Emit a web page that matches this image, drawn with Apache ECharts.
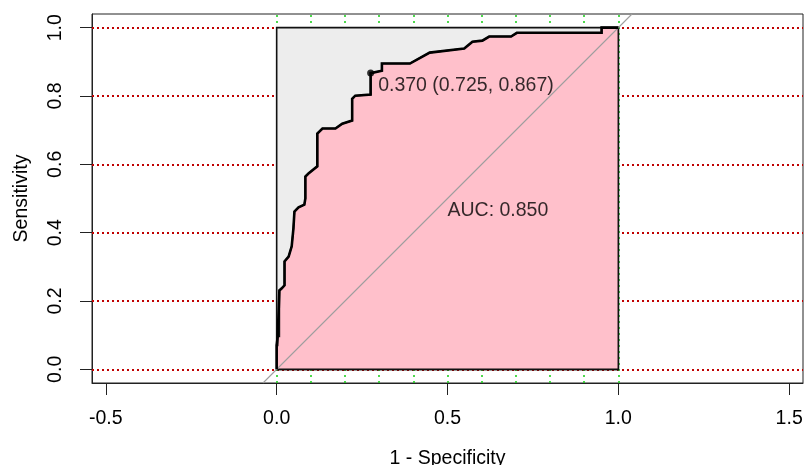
<!DOCTYPE html>
<html>
<head>
<meta charset="utf-8">
<script src="https://cdn.jsdelivr.net/npm/echarts@6/dist/echarts.min.js"></script>
<style>html,body{margin:0;padding:0;background:#fff}#c{width:810px;height:465px}</style>
</head>
<body>
<div id="c"></div>
<script>
// ROC curve (1 - specificity, sensitivity)
const fpr  = [0, 0, 0.003, 0.003, 0.008, 0.008, 0.015, 0.023, 0.023, 0.035, 0.044, 0.049, 0.052, 0.064, 0.081, 0.084, 0.084, 0.093, 0.119, 0.119, 0.134, 0.172, 0.192, 0.221, 0.221, 0.230, 0.275, 0.275, 0.308, 0.308, 0.390, 0.448, 0.549, 0.573, 0.602, 0.622, 0.686, 0.703, 0.951, 0.951, 1.0];
const sens = [0, 0.070, 0.070, 0.096, 0.096, 0.231, 0.237, 0.246, 0.316, 0.330, 0.360, 0.412, 0.462, 0.474, 0.482, 0.500, 0.564, 0.573, 0.594, 0.690, 0.705, 0.705, 0.719, 0.728, 0.792, 0.801, 0.804, 0.867, 0.874, 0.895, 0.895, 0.927, 0.939, 0.959, 0.962, 0.974, 0.974, 0.985, 0.985, 1.0, 1.0];
const bestThreshold = 0.370;
const bestSpecificity = 0.725;
const bestSensitivity = 0.867;
const aucValue = 0.850;
const xTickValues = [-0.5, 0, 0.5, 1, 1.5];
const yTickValues = [0, 0.2, 0.4, 0.6, 0.8, 1.0];
const xGridValues = [0, 0.1, 0.2, 0.3, 0.4, 0.5, 0.6, 0.7, 0.8, 0.9, 1.0];
const squareX = [0, 0, 1, 1];
const squareY = [0, 1, 1, 0];
const xLabel = '1 - Specificity';
const yLabel = 'Sensitivity';

const W = 810, H = 465;
const gLeft = 92, gRight = 7, gTop = 14, gBottom = 82;
const yMin = -0.04, yMax = 1.04;
const ppu = (H - gTop - gBottom) / (yMax - yMin);
const halfX = (W - gLeft - gRight) / (2 * ppu);
const xMin = 0.5 - halfX, xMax = 0.5 + halfX;

const FONT = 'Liberation Sans, Arial, sans-serif';
const FS = 19.5;

const curve = fpr.map((x, i) => [x, sens[i]]);
const pinkPoly = curve.concat([[1, 0]]);
const grayPoly = squareX.map((x, i) => [x, squareY[i]]);

function polySeries(points, fill, z) {
  return {
    type: 'custom', z: z, silent: true, clip: true,
    data: [0],
    renderItem: function (params, api) {
      return {
        type: 'polygon',
        shape: { points: points.map(p => api.coord(p)) },
        style: { fill: fill, stroke: '#111', lineWidth: 1.6 }
      };
    }
  };
}

const chart = echarts.init(document.getElementById('c'), null, { renderer: 'canvas' });
chart.setOption({
  animation: false,
  backgroundColor: '#fff',
  textStyle: { fontFamily: FONT },
  grid: { left: gLeft, right: gRight, top: gTop, bottom: gBottom, containLabel: false, outerBoundsMode: 'none',
    show: true, borderColor: '#222', borderWidth: 1, backgroundColor: 'transparent' },
  xAxis: {
    type: 'value', min: xMin, max: xMax,
    name: xLabel, nameLocation: 'middle', nameGap: 66,
    nameTextStyle: { fontSize: FS, color: '#000', fontFamily: FONT },
    axisLine: { show: true, onZero: false, lineStyle: { color: '#222', width: 1 } },
    axisTick: { show: true, length: 12, customValues: xTickValues, lineStyle: { color: '#222', width: 1 } },
    axisLabel: { customValues: xTickValues, margin: 26, fontSize: FS, color: '#000', fontFamily: FONT,
      formatter: v => v.toFixed(1) },
    splitLine: { show: false }
  },
  yAxis: {
    type: 'value', min: yMin, max: yMax,
    name: yLabel, nameLocation: 'middle', nameGap: 60,
    nameTextStyle: { fontSize: FS, color: '#000', fontFamily: FONT },
    axisLine: { show: true, onZero: false, lineStyle: { color: '#222', width: 1 } },
    axisTick: { show: true, length: 12, customValues: yTickValues, lineStyle: { color: '#222', width: 1 } },
    axisLabel: { customValues: yTickValues, rotate: 90, margin: 26, fontSize: FS, color: '#000', fontFamily: FONT,
      formatter: v => v.toFixed(1) },
    splitLine: { show: false }
  },
  series: [
    {
      type: 'line', data: [], z: 1, silent: true,
      markLine: {
        z: 1, silent: true, symbol: 'none', animation: false, label: { show: false },
        data: yTickValues.map(v => ({ yAxis: v, lineStyle: { color: '#C00000', type: [2, 3], width: 2 } }))
          .concat(xGridValues.map(v => ({ xAxis: v, lineStyle: { color: '#22D022', type: [2, 4], width: 1.6 } })))
      }
    },
    polySeries(grayPoly, '#EDEDED', 2),
    polySeries(pinkPoly, '#FFC0CB', 3),
    {
      type: 'line', z: 4, silent: true, symbol: 'none',
      data: [[yMin, yMin], [yMax, yMax]],
      lineStyle: { color: '#9E9E9E', width: 1.1 }
    },
    {
      type: 'line', z: 5, silent: true, symbol: 'none',
      data: curve,
      lineStyle: { color: '#000', width: 2.6, join: 'miter' }
    },
    {
      type: 'scatter', z: 6, silent: true,
      data: [[1 - bestSpecificity, bestSensitivity]],
      symbol: 'circle', symbolSize: 7,
      itemStyle: { color: '#000' },
      label: {
        show: true, position: 'right', distance: 4, offset: [0, 13],
        fontSize: FS, color: '#000', fontFamily: FONT,
        formatter: () => bestThreshold.toFixed(3) + ' (' + bestSpecificity.toFixed(3) + ', ' + bestSensitivity.toFixed(3) + ')'
      }
    },
    {
      type: 'scatter', z: 6, silent: true,
      data: [[0.5, 0.5]],
      symbolSize: 0,
      label: {
        show: true, position: 'right', distance: 0, offset: [0, 12],
        fontSize: FS, color: '#000', fontFamily: FONT,
        formatter: () => 'AUC: ' + aucValue.toFixed(3)
      }
    }
  ]
});
</script>
</body>
</html>
